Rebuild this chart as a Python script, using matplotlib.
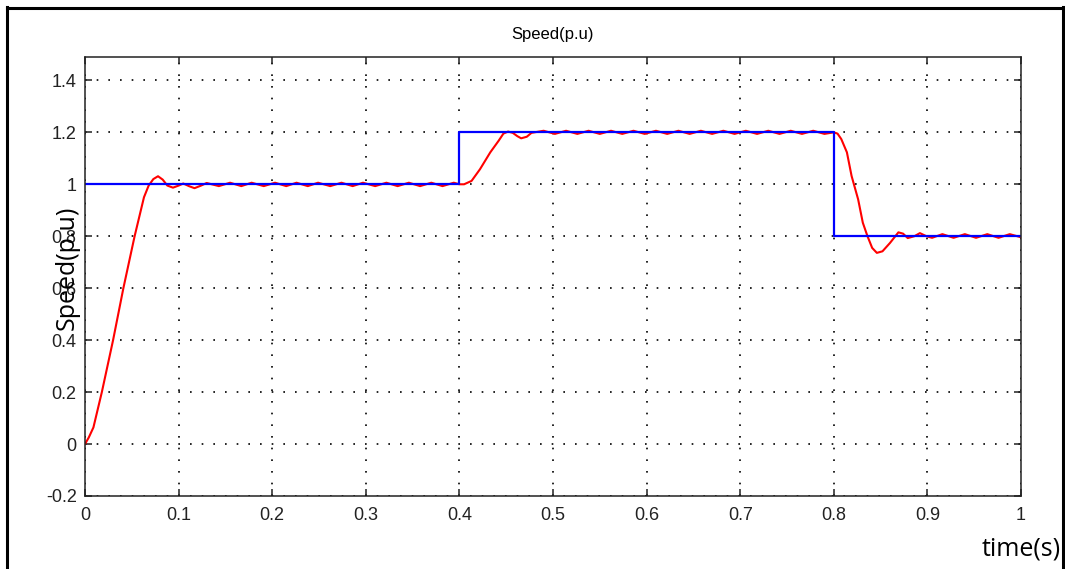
import numpy as np
import matplotlib.pyplot as plt
from matplotlib.lines import Line2D

# reference speed (step changes)
ref_t = [0.0, 0.4, 0.4, 0.8, 0.8, 1.0]
ref_v = [1.0, 1.0, 1.2, 1.2, 0.8, 0.8]

spd_t = [0.000, 0.004, 0.009, 0.018, 0.030, 0.041, 0.053, 0.063, 0.068, 0.073,
         0.078, 0.083, 0.088, 0.094, 0.100, 0.105, 0.111, 0.117, 0.124, 0.130,
         0.143, 0.155, 0.167, 0.178, 0.191, 0.203, 0.215, 0.226, 0.238, 0.249,
         0.262, 0.274, 0.286, 0.297, 0.310, 0.322, 0.334, 0.346, 0.358, 0.370,
         0.382, 0.394, 0.400,
         0.405, 0.413, 0.422, 0.433, 0.442, 0.447, 0.452, 0.457, 0.462, 0.466,
         0.472, 0.477, 0.490, 0.502, 0.514, 0.526, 0.538, 0.550, 0.562, 0.574,
         0.586, 0.598, 0.610, 0.622, 0.634, 0.646, 0.658, 0.670, 0.682, 0.694,
         0.706, 0.718, 0.730, 0.742, 0.754, 0.766, 0.778, 0.790, 0.800,
         0.804, 0.808, 0.814, 0.819, 0.826, 0.831, 0.836, 0.841, 0.846, 0.852,
         0.860, 0.869, 0.874, 0.879, 0.886, 0.892, 0.899, 0.905, 0.916, 0.928,
         0.940, 0.952, 0.964, 0.976, 0.988, 1.000]
spd_v = [0.000, 0.025, 0.064, 0.200, 0.400, 0.600, 0.800, 0.950, 0.995, 1.020,
         1.031, 1.018, 0.995, 0.987, 0.995, 1.003, 0.993, 0.985, 0.995, 1.005,
         0.993, 1.006, 0.993, 1.006, 0.993, 1.006, 0.993, 1.006, 0.993, 1.006,
         0.993, 1.006, 0.993, 1.006, 0.993, 1.006, 0.993, 1.006, 0.993, 1.006,
         0.993, 1.006, 1.000,
         1.000, 1.013, 1.058, 1.123, 1.168, 1.195, 1.203, 1.198, 1.185, 1.177,
         1.183, 1.198, 1.206, 1.194, 1.206, 1.194, 1.206, 1.194, 1.206, 1.194,
         1.206, 1.194, 1.206, 1.194, 1.206, 1.194, 1.206, 1.194, 1.206, 1.194,
         1.206, 1.194, 1.206, 1.194, 1.206, 1.194, 1.206, 1.194, 1.200,
         1.195, 1.174, 1.123, 1.032, 0.942, 0.852, 0.800, 0.755, 0.736, 0.742,
         0.774, 0.815, 0.810, 0.793, 0.800, 0.812, 0.800, 0.794, 0.808, 0.794,
         0.808, 0.794, 0.808, 0.794, 0.808, 0.796]

x_ticks = [0, 0.1, 0.2, 0.3, 0.4, 0.5, 0.6, 0.7, 0.8, 0.9, 1]
x_labels = ['0', '0.1', '0.2', '0.3', '0.4', '0.5', '0.6', '0.7', '0.8', '0.9', '1']
y_ticks = [-0.2, 0, 0.2, 0.4, 0.6, 0.8, 1, 1.2, 1.4]
y_labels = ['-0.2', '0', '0.2', '0.4', '0.6', '0.8', '1', '1.2', '1.4']

fig = plt.figure(figsize=(10.65, 5.69), dpi=100)
ax = fig.add_axes([85 / 1065, 73 / 569, 936 / 1065, 439 / 569])

ax.plot(spd_t, spd_v, color='red', lw=1.5)
ax.plot(ref_t, ref_v, color='blue', lw=1.6)

ax.set_xlim(0, 1)
ax.set_ylim(-0.2, 1.49)
ax.set_xticks(x_ticks)
ax.set_xticklabels(x_labels)
ax.set_yticks(y_ticks)
ax.set_yticklabels(y_labels)
ax.grid(True, color='black', lw=1.2, linestyle=(0, (1, 6)))
ax.tick_params(direction='in', length=5, width=1.1, top=True, right=True,
               labelsize=13, colors='#222222')
ax.tick_params(axis='x', pad=8)
ax.tick_params(axis='y', pad=6)
for lab in ax.get_xticklabels() + ax.get_yticklabels():
    lab.set_family('Liberation Sans')
for s in ax.spines.values():
    s.set_linewidth(1.1)
    s.set_color('#222222')

ax.set_title('Speed(p.u)', fontsize=12, family='Liberation Sans', pad=13)
fig.text(67 / 1065, 1 - 268 / 569, 'Speed(p.u)', rotation=90, fontsize=18,
         family='Open Sans', ha='center', va='center')
fig.text(1061 / 1065, 1 - 549 / 569, 'time(s)', fontsize=18,
         family='Open Sans', ha='right', va='center')

# black frame on left, top and right
fig.add_artist(Line2D([7 / 1065, 7 / 1065], [0, 1 - 7 / 569], color='black', lw=2.2))
fig.add_artist(Line2D([7 / 1065, 1063 / 1065], [1 - 8 / 569, 1 - 8 / 569], color='black', lw=2.2))
fig.add_artist(Line2D([1063 / 1065, 1063 / 1065], [0, 1 - 7 / 569], color='black', lw=2.2))

fig.savefig('out.png', dpi=100)
